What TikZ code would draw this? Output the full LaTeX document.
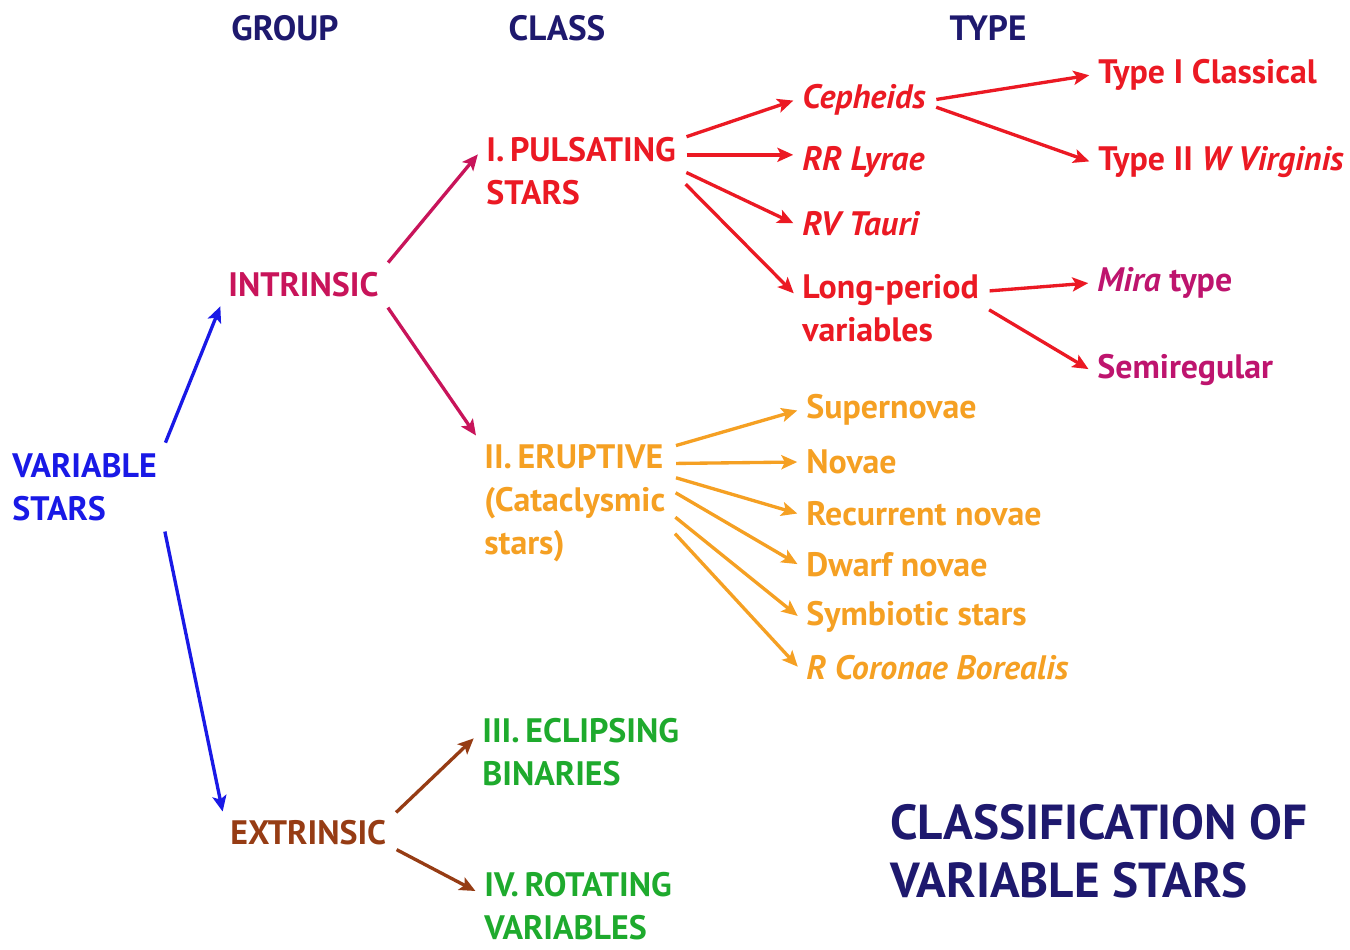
\documentclass[tikz,border=0pt]{standalone}
\usepackage{fontspec}
\setmainfont{PT Sans}
\usetikzlibrary{arrows.meta}
\definecolor{navy}{RGB}{30,25,110}
\definecolor{vsblue}{RGB}{25,25,230}
\definecolor{intrcol}{RGB}{200,20,90}
\definecolor{extrcol}{RGB}{150,60,20}
\definecolor{pulscol}{RGB}{235,25,35}
\definecolor{erupcol}{RGB}{245,160,35}
\definecolor{bincol}{RGB}{30,170,45}
\definecolor{miracol}{RGB}{190,20,110}
\tikzset{
  lbl/.style = {anchor=west, align=left, inner sep=4pt,
    font=\fontsize{19.3}{24.4}\selectfont\bfseries},
  head/.style = {navy, inner sep=0pt, font=\fontsize{20}{22}\selectfont\bfseries},
  conn/.style = {line width=1.9pt, shorten >=1pt, shorten <=2pt}}

\begin{document}
\begin{tikzpicture}[->,>={Stealth[length=9pt,width=8pt,inset=2pt]},x=0.02cm,y=-0.02cm]
\useasboundingbox (0,0) rectangle (1350,950);

\node [head] (group) at (285,28) {GROUP};
\node [head] (class) at (557,28) {CLASS};
\node [head] (type) at (988,28) {TYPE};

\node [lbl, vsblue] (vs) at (5,487) {VARIABLE\\STARS};
\node [lbl, intrcol] (intr) at (221,285) {INTRINSIC};
\node [lbl, extrcol] (extr) at (223,833) {EXTRINSIC};

\node [lbl, pulscol] (puls) at (479,171) {I.\,PULSATING\\STARS};
\node [lbl, erupcol] (erupt) at (477,503) {II.\,ERUPTIVE\\(Cataclysmic\\stars)};
\node [lbl, bincol] (eclip) at (475,752) {III.\,ECLIPSING\\BINARIES};
\node [lbl, bincol] (rot) at (477,906) {IV.\,ROTATING\\VARIABLES};

\node [lbl, pulscol] (ceph) at (795,100) {\itshape Cepheids};
\node [lbl, pulscol] (rr) at (795,162) {\itshape RR Lyrae};
\node [lbl, pulscol] (rv) at (795,224) {\itshape RV Tauri};
\node [lbl, pulscol] (lp) at (795,308) {Long-period\\variables};
\node [lbl, pulscol] (typeI) at (1091,75) {Type I Classical};
\node [lbl, pulscol] (typeII) at (1091,162) {Type II \textit{W Virginis}};
\node [lbl, miracol] (mira) at (1090,283) {\textit{Mira} type};
\node [lbl, miracol] (semi) at (1090,370) {Semiregular};

\node [lbl, erupcol] (super) at (799,410) {Supernovae};
\node [lbl, erupcol] (novae) at (799,462) {Novae};
\node [lbl, erupcol] (recur) at (799,514) {Recurrent novae};
\node [lbl, erupcol] (dwarf) at (799,565) {Dwarf novae};
\node [lbl, erupcol] (symb) at (799,617) {Symbiotic stars};
\node [lbl, erupcol] (rcb) at (799,668) {\itshape R Coronae Borealis};

\node [lbl, navy, font=\fontsize{28}{33}\selectfont\bfseries] (title) at (883,851)
  {CLASSIFICATION OF\\VARIABLE STARS};

% group level
\draw [conn, vsblue] (vs.north east) -- (intr.south west);
\draw [conn, vsblue] (vs.south east) -- (extr.north west);
\draw [conn, intrcol] (intr.north east) -- (puls.170);
\draw [conn, intrcol] (intr.south east) -- (erupt.north west);
\draw [conn, extrcol] (extr.12) -- (eclip.172);
\draw [conn, extrcol] (extr.-10) -- (rot.172);

% pulsating
\draw [conn, pulscol] (puls.18) -- (ceph.west);
\draw [conn, pulscol] (puls.9) -- (puls.9 -| rr.west);
\draw [conn, pulscol] (puls.east) -- (rv.west);
\draw [conn, pulscol] (puls.-6) -- (lp.172);
\draw [conn, pulscol] (ceph.east) -- (typeI.west);
\draw [conn, pulscol] (ceph.-5) -- (typeII.west);
\draw [conn, pulscol] (lp.10) -- (mira.west);
\draw [conn, pulscol] (lp.east) -- (semi.west);

% eruptive
\draw [conn, erupcol] (erupt.30) -- (super.west);
\draw [conn, erupcol] (erupt.22) -- (novae.west);
\draw [conn, erupcol] (erupt.15) -- (recur.west);
\draw [conn, erupcol] (erupt.7) -- (dwarf.west);
\draw [conn, erupcol] (erupt.-7) -- (symb.west);
\draw [conn, erupcol] (erupt.-16) -- (rcb.west);
\end{tikzpicture}
\end{document}
